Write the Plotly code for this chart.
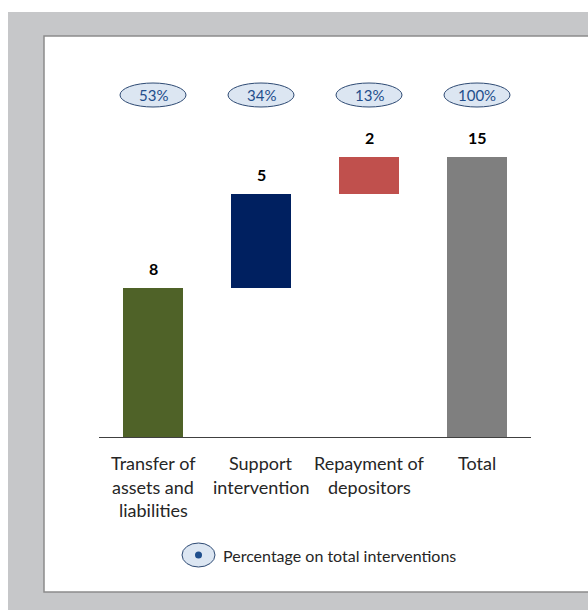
import plotly.graph_objects as go

categories = ["Transfer of<br>assets and<br>liabilities", "Support<br>intervention", "Repayment of<br>depositors", "Total"]
values = [8, 5, 2, 15]
bases = [0, 8, 13, 0]
percentages = ["53%", "34%", "13%", "100%"]
bar_colors = ["#4f6228", "#002060", "#c0504d", "#7f7f7f"]
legend_text = "Percentage on total interventions"

W, H = 588, 610
FONT = "Lato"

def px(x):
    return x / W

def py(y):
    return (H - y) / H

x_idx = list(range(len(categories)))

fig = go.Figure()
fig.add_trace(go.Bar(
    x=x_idx, y=values, base=bases, marker=dict(color=bar_colors, line=dict(width=0)),
    width=0.556, hoverinfo="skip", showlegend=False,
))

y_bottom_px, y_top_px = 437, 45
unit_px = 280 / 15.0
y_max = (y_bottom_px - y_top_px) / unit_px

shapes = [
    dict(type="rect", xref="paper", yref="paper", x0=px(8), x1=px(620), y0=py(12), y1=py(640),
         fillcolor="#c6c7c9", line=dict(width=0), layer="below"),
    dict(type="rect", xref="paper", yref="paper", x0=px(44), x1=px(640), y0=py(36), y1=py(592),
         fillcolor="#ffffff", line=dict(color="#8c8c8c", width=1.5), layer="below"),
]
annotations = []

for i, (v, b, p, c) in enumerate(zip(values, bases, percentages, categories)):
    annotations.append(dict(x=i, y=b + v, xref="x", yref="y", text="<b>%d</b>" % v,
                            showarrow=False, yanchor="bottom", yshift=8,
                            font=dict(family=FONT, size=16, color="#000000")))
    shapes.append(dict(type="circle", xref="x", yref="paper", x0=i - 0.3056, x1=i + 0.3056,
                       y0=py(107), y1=py(83), fillcolor="#dce6f2",
                       line=dict(color="#2e4a73", width=1), layer="above"))
    annotations.append(dict(x=i, y=py(95), xref="x", yref="paper", text=p, showarrow=False,
                            xanchor="center", yanchor="middle",
                            font=dict(family=FONT, size=15, color="#1f4e8c")))
    for k, line in enumerate(c.split("<br>")):
        annotations.append(dict(x=i, y=py(463 + 23.5 * k), xref="x", yref="paper", text=line,
                                showarrow=False, xanchor="center", yanchor="middle",
                                font=dict(family=FONT, size=18, color="#262626")))

# legend
shapes.append(dict(type="circle", xref="paper", yref="paper", x0=px(182), x1=px(215),
                   y0=py(567), y1=py(543), fillcolor="#dce6f2",
                   line=dict(color="#2e4a73", width=1)))
shapes.append(dict(type="circle", xref="paper", yref="paper", x0=px(195), x1=px(202),
                   y0=py(558.5), y1=py(551.5), fillcolor="#1f4e8c", line=dict(width=0)))
annotations.append(dict(x=px(221), y=py(555), xref="paper", yref="paper", text=legend_text,
                        showarrow=False, xanchor="left", yanchor="middle",
                        font=dict(family=FONT, size=16, color="#262626")))

fig.update_layout(
    width=W, height=H, margin=dict(l=0, r=0, t=0, b=0),
    paper_bgcolor="#ffffff", plot_bgcolor="rgba(0,0,0,0)",
    font=dict(family=FONT, size=16, color="#262626"),
    shapes=shapes, annotations=annotations,
    xaxis=dict(domain=[px(99), px(531)], range=[-0.5, 3.5], tickvals=x_idx, showticklabels=False,
               showline=True, linecolor="#404040", linewidth=1, ticks="", showgrid=False,
               zeroline=False, fixedrange=True),
    yaxis=dict(domain=[py(y_bottom_px), py(y_top_px)], range=[0, y_max], visible=False,
               showgrid=False, zeroline=False, fixedrange=True),
    bargap=0,
)

fig.write_html("out.html")
